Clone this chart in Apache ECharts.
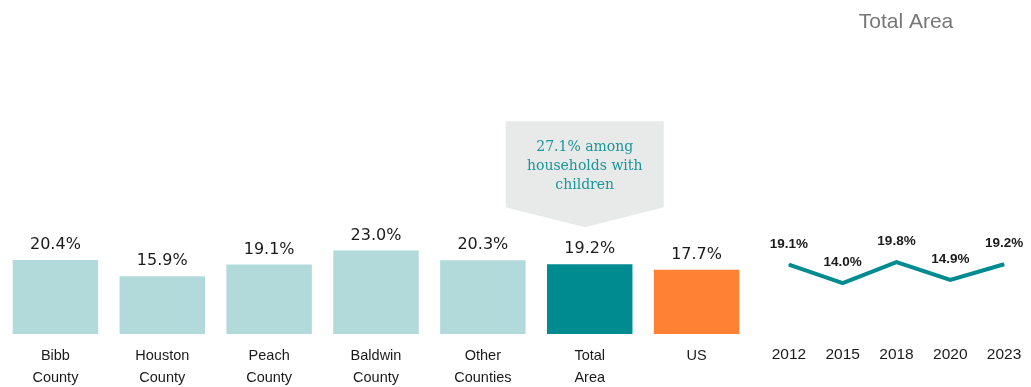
<!DOCTYPE html>
<html>
<head>
<meta charset="utf-8">
<script src="https://cdn.jsdelivr.net/npm/echarts@6/dist/echarts.min.js"></script>
<style>
  html, body { margin: 0; padding: 0; background: #ffffff; }
  #chart { width: 1031px; height: 387px; }
</style>
</head>
<body>
<div id="chart"></div>
<script>
// Share of households (percent) by area
const areaNames = ['Bibb\nCounty', 'Houston\nCounty', 'Peach\nCounty', 'Baldwin\nCounty', 'Other\nCounties', 'Total\nArea', 'US'];
const areaValues = [20.4, 15.9, 19.1, 23.0, 20.3, 19.2, 17.7];

// Total Area trend
const trendYears = ['2012', '2015', '2018', '2020', '2023'];
const trendValues = [19.1, 14.0, 19.8, 14.9, 19.2];

// Callout attached to the Total Area bar
const calloutTarget = 'Total\nArea';
const calloutLines = ['27.1% among', 'households with', 'children'];

const LIGHT = '#b3dadb';
const TEAL = '#008b90';
const ORANGE = '#ff8134';
const TEXT = '#1a1a1a';
const SANS = '"Liberation Sans", Arial, sans-serif';
const WIDE = '"DejaVu Sans", "Liberation Sans", sans-serif';

function barColor(name) {
  if (name === 'Total\nArea') return TEAL;
  if (name === 'US') return ORANGE;
  return LIGHT;
}

const chart = echarts.init(document.getElementById('chart'), null, { renderer: 'canvas' });

chart.setOption({
  animation: false,
  backgroundColor: '#ffffff',
  title: {
    text: 'Total Area',
    left: 901,
    top: 7,
    textAlign: 'center',
    textStyle: { fontFamily: SANS, fontSize: 21, fontWeight: 'normal', color: '#777777' }
  },
  grid: [
    { left: 2, width: 748, top: 116, bottom: 53, outerBoundsMode: 'none' },
    { left: 762, width: 269, top: 116, bottom: 53, outerBoundsMode: 'none' }
  ],
  xAxis: [
    {
      type: 'category', gridIndex: 0, data: areaNames,
      axisLine: { show: false }, axisTick: { show: false },
      axisLabel: { fontFamily: SANS, fontSize: 14.5, color: TEXT, margin: 11, lineHeight: 22, interval: 0 }
    },
    {
      type: 'category', gridIndex: 1, data: trendYears,
      axisLine: { show: false }, axisTick: { show: false },
      axisLabel: { fontFamily: SANS, fontSize: 15.5, color: TEXT, margin: 10, lineHeight: 22, interval: 0 }
    }
  ],
  yAxis: [
    { type: 'value', gridIndex: 0, min: 0, max: 60, show: false },
    { type: 'value', gridIndex: 1, min: 0, max: 60, show: false }
  ],
  series: [
    {
      type: 'bar', xAxisIndex: 0, yAxisIndex: 0,
      barCategoryGap: '20%',
      data: areaValues.map((v, i) => ({ value: v, itemStyle: { color: barColor(areaNames[i]) } })),
      label: {
        show: true, position: 'top', distance: 7,
        fontFamily: WIDE, fontSize: 16, color: TEXT,
        formatter: p => p.value.toFixed(1) + '%'
      }
    },
    {
      type: 'line', xAxisIndex: 1, yAxisIndex: 1,
      data: trendValues,
      symbol: 'circle',
      symbolSize: 1,
      showSymbol: true,
      itemStyle: { color: TEAL },
      lineStyle: { color: TEAL, width: 4, join: 'miter' },
      label: {
        show: true, position: 'top', distance: 13,
        fontFamily: SANS, fontSize: 13.5, fontWeight: 'bold', color: TEXT,
        formatter: p => p.value.toFixed(1) + '%'
      }
    }
  ]
});

// Callout box with a pointer, placed above the target bar
const calloutIdx = areaNames.indexOf(calloutTarget);
const barTop = chart.convertToPixel({ seriesIndex: 0 }, [calloutIdx, areaValues[calloutIdx]]);
const cx = barTop[0] - 5;
const tipY = barTop[1] - 37;
const halfW = 79;
const boxBottom = tipY - 20;
const boxTop = boxBottom - 86;
chart.setOption({
  graphic: [
    {
      type: 'polygon',
      shape: {
        points: [
          [cx - halfW, boxTop], [cx + halfW, boxTop], [cx + halfW, boxBottom],
          [cx, tipY], [cx - halfW, boxBottom]
        ]
      },
      style: { fill: '#e8e9e9' },
      silent: true
    },
    {
      type: 'text',
      x: cx,
      y: boxTop + 45,
      style: {
        text: calloutLines.join('\n'),
        fontFamily: '"DejaVu Serif", "Liberation Serif", serif',
        fontSize: 14,
        lineHeight: 19,
        fill: '#1a9699',
        align: 'center',
        verticalAlign: 'middle'
      },
      silent: true
    }
  ]
});
</script>
</body>
</html>
